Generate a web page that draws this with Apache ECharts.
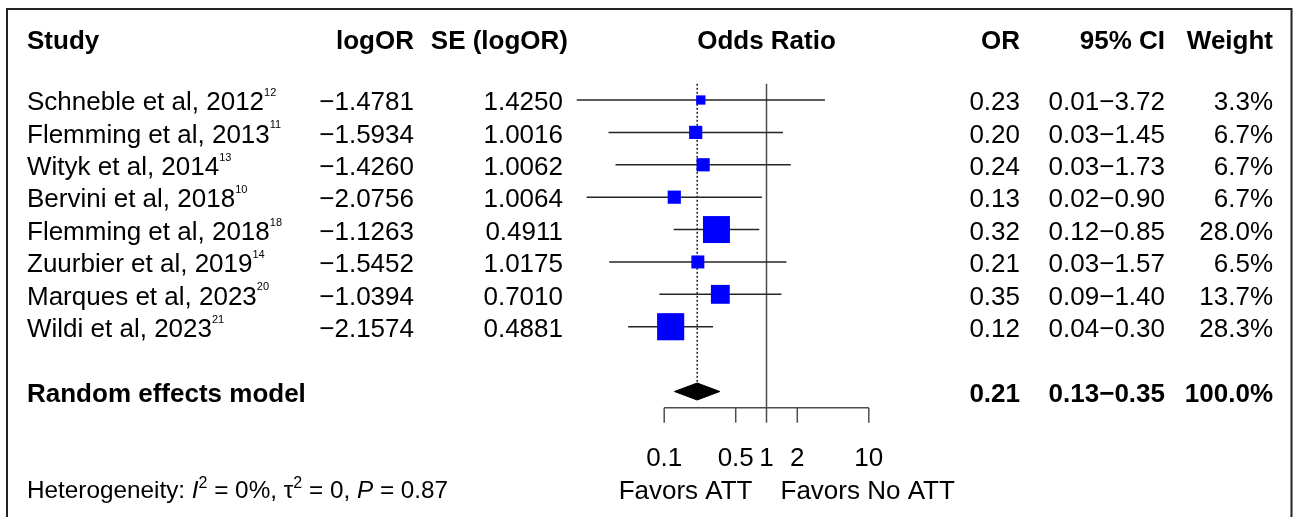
<!DOCTYPE html>
<html><head><meta charset="utf-8">
<script src="https://cdn.jsdelivr.net/npm/echarts@6.0.0/dist/echarts.min.js"></script>
<style>html,body{margin:0;padding:0;background:#fff}#c{width:1293px;height:517px}</style>
</head><body><div id="c"></div>
<script>
// ---- data ----
const studies = ['Schneble et al, 2012','Flemming et al, 2013','Wityk et al, 2014','Bervini et al, 2018','Flemming et al, 2018','Zuurbier et al, 2019','Marques et al, 2023','Wildi et al, 2023'];
const refs = ['12','11','13','10','18','14','20','21'];
const logOR = [-1.4781,-1.5934,-1.4260,-2.0756,-1.1263,-1.5452,-1.0394,-2.1574];
const seLogOR = [1.4250,1.0016,1.0062,1.0064,0.4911,1.0175,0.7010,0.4881];
const orText = ['0.23','0.20','0.24','0.13','0.32','0.21','0.35','0.12'];
const ciText = ['0.01\u22123.72','0.03\u22121.45','0.03\u22121.73','0.02\u22120.90','0.12\u22120.85','0.03\u22121.57','0.09\u22121.40','0.04\u22120.30'];
const weights = [3.3,6.7,6.7,6.7,28.0,6.5,13.7,28.3];
const pooledOR = [0.210];
const pooledCI = [0.126, 0.350];
const pooledText = ['0.21','0.13\u22120.35','100.0%'];
const tickValues = [0.1,0.5,1,2,10];
const tickLabels = ['0.1','0.5','1','2','10'];

const FONT = '"Liberation Sans", Arial, Helvetica, sans-serif';
const FS = 26;
const TDY = 3; // text vertical offset
const rows = studies.map((_, i) => i);
const POOL_ROW = 9, AXIS_ROW = 9.5, TICKLAB_ROW = 11, FOOT_ROW = 12, HEAD_ROW = -1.9;
const L10 = Math.LN10;
const fmt4 = v => (v < 0 ? '\u2212' : '') + Math.abs(v).toFixed(4);

const mctx = document.createElement('canvas').getContext('2d');
function measure(text, size, style, weight) {
  mctx.font = (style || 'normal') + ' ' + (weight || 'normal') + ' ' + size + 'px ' + FONT;
  return mctx.measureText(text).width;
}

// segments: [text, size, fontStyle, dy]
function segmentGroup(x, y, segs) {
  const children = [];
  let cx = x;
  segs.forEach(s => {
    const [t, size, fst, dy] = s;
    children.push({ type: 'text', x: cx, y: y + (dy || 0), style: { text: t, fill: '#000', fontSize: size, fontFamily: FONT, fontStyle: fst || 'normal', align: 'left', verticalAlign: 'middle' } });
    cx += measure(t, size, fst);
  });
  return { type: 'group', children: children };
}

function textSeries(xPix, align, texts, rowList, opt) {
  opt = opt || {};
  return {
    type: 'custom', coordinateSystem: 'cartesian2d', silent: true, clip: false,
    data: rowList.map(r => [0, r]),
    renderItem: (params, api) => {
      const y = api.coord([0, api.value(1)])[1] + TDY;
      const t = texts[params.dataIndex];
      if (Array.isArray(t)) return segmentGroup(xPix, y, t);
      return { type: 'text', x: xPix, y: y, style: {
        text: t, fill: '#000', fontSize: opt.fontSize || FS,
        fontFamily: FONT, fontWeight: opt.bold ? 'bold' : 'normal',
        align: align, verticalAlign: 'middle' } };
    }
  };
}

const studySegs = studies.map((s, i) => [[s, FS], [refs[i], 11, 'normal', -10]]);
const HS = 24.3;
const hetSegs = [['Heterogeneity: ', HS], ['I', HS, 'italic'], ['2', 16, 'normal', -8], [' = 0%, \u03c4', HS], ['2', 16, 'normal', -8], [' = 0, ', HS], ['P', HS, 'italic'], [' = 0.87', HS]];

const chart = echarts.init(document.getElementById('c'), null, { renderer: 'canvas' });

const series = [
  // reference line at OR = 1 (solid)
  {
    type: 'custom', coordinateSystem: 'cartesian2d', silent: true, clip: false,
    data: [[0, -0.5, AXIS_ROW]],
    renderItem: (p, api) => {
      const a = api.coord([api.value(0), api.value(1)]);
      const b = api.coord([api.value(0), api.value(2)]);
      return { type: 'line', shape: { x1: a[0], y1: a[1], x2: b[0], y2: b[1] }, style: { stroke: '#4d4d4d', lineWidth: 1.5 } };
    }
  },
  // pooled estimate line (dotted)
  {
    type: 'custom', coordinateSystem: 'cartesian2d', silent: true, clip: false,
    data: [[Math.log10(pooledOR[0]), -0.5, POOL_ROW]],
    renderItem: (p, api) => {
      const a = api.coord([api.value(0), api.value(1)]);
      const b = api.coord([api.value(0), api.value(2)]);
      return { type: 'line', shape: { x1: a[0], y1: a[1], x2: b[0], y2: b[1] - 8.5 }, style: { stroke: '#000', lineWidth: 1.3, lineDash: [2, 2] } };
    }
  },
  // squares
  {
    type: 'scatter', silent: true, symbol: 'rect',
    data: rows.map(i => [logOR[i] / L10, i, weights[i]]),
    symbolSize: v => 5.1 * Math.sqrt(v[2]),
    itemStyle: { color: '#0000ff', opacity: 1 },
    emphasis: { disabled: true }
  },
  // CI lines + estimate tick
  {
    type: 'custom', coordinateSystem: 'cartesian2d', silent: true, clip: false,
    data: rows.map(i => [i, (logOR[i] - 1.96 * seLogOR[i]) / L10, logOR[i] / L10, (logOR[i] + 1.96 * seLogOR[i]) / L10]),
    dimensions: ['row', 'lo', 'est', 'hi'],
    encode: { x: 2, y: 0 },
    renderItem: (p, api) => {
      const r = api.value(0);
      const lo = api.coord([api.value(1), r]);
      const es = api.coord([api.value(2), r]);
      const hi = api.coord([api.value(3), r]);
      const st = { stroke: '#262626', lineWidth: 1.5 };
      return {
        type: 'group', children: [
          { type: 'line', shape: { x1: lo[0], y1: lo[1], x2: hi[0], y2: hi[1] }, style: st },
          { type: 'line', shape: { x1: es[0], y1: es[1] - 4, x2: es[0], y2: es[1] + 4 }, style: st }
        ]
      };
    }
  },
  // pooled diamond
  {
    type: 'custom', coordinateSystem: 'cartesian2d', silent: true, clip: false,
    data: [[POOL_ROW, Math.log10(pooledCI[0]), Math.log10(pooledOR[0]), Math.log10(pooledCI[1])]],
    encode: { x: 2, y: 0 },
    renderItem: (p, api) => {
      const r = api.value(0);
      const lo = api.coord([api.value(1), r]);
      const es = api.coord([api.value(2), r]);
      const hi = api.coord([api.value(3), r]);
      return {
        type: 'polygon',
        shape: { points: [[lo[0], lo[1]], [es[0], es[1] - 8.5], [hi[0], hi[1]], [es[0], es[1] + 8.5]] },
        style: { fill: '#000', stroke: '#000', lineWidth: 1 }
      };
    }
  },
  // x axis line
  {
    type: 'custom', coordinateSystem: 'cartesian2d', silent: true, clip: false,
    data: [[Math.log10(tickValues[0]), Math.log10(tickValues[tickValues.length - 1]), AXIS_ROW]],
    renderItem: (p, api) => {
      const a = api.coord([api.value(0), api.value(2)]);
      const b = api.coord([api.value(1), api.value(2)]);
      return { type: 'line', shape: { x1: a[0], y1: a[1], x2: b[0], y2: b[1] }, style: { stroke: '#4d4d4d', lineWidth: 1.5 } };
    }
  },
  // ticks + labels
  {
    type: 'custom', coordinateSystem: 'cartesian2d', silent: true, clip: false,
    data: tickValues.map(t => [Math.log10(t), AXIS_ROW, TICKLAB_ROW]),
    renderItem: (p, api) => {
      const a = api.coord([api.value(0), api.value(1)]);
      const l = api.coord([api.value(0), api.value(2)]);
      return {
        type: 'group', children: [
          { type: 'line', shape: { x1: a[0], y1: a[1], x2: a[0], y2: a[1] + 15 }, style: { stroke: '#4d4d4d', lineWidth: 1.5 } },
          { type: 'text', x: l[0], y: l[1] + TDY, style: { text: tickLabels[p.dataIndex], fontSize: FS, fontFamily: FONT, fill: '#000', align: 'center', verticalAlign: 'middle' } }
        ]
      };
    }
  },
  // Favors labels (positioned relative to OR = 1)
  {
    type: 'custom', coordinateSystem: 'cartesian2d', silent: true, clip: false,
    data: [[0, FOOT_ROW]],
    renderItem: (p, api) => {
      const c = api.coord([api.value(0), api.value(1)]);
      return {
        type: 'group', children: [
          { type: 'text', x: c[0] - 14, y: c[1] + TDY, style: { text: 'Favors ATT', fontSize: FS, fontFamily: FONT, fill: '#000', align: 'right', verticalAlign: 'middle' } },
          { type: 'text', x: c[0] + 14, y: c[1] + TDY, style: { text: 'Favors No ATT', fontSize: FS, fontFamily: FONT, fill: '#000', align: 'left', verticalAlign: 'middle' } }
        ]
      };
    }
  },
  // headers
  textSeries(27, 'left', ['Study'], [HEAD_ROW], { bold: true }),
  textSeries(414, 'right', ['logOR'], [HEAD_ROW], { bold: true }),
  textSeries(568, 'right', ['SE (logOR)'], [HEAD_ROW], { bold: true }),
  textSeries(766.5, 'center', ['Odds Ratio'], [HEAD_ROW], { bold: true }),
  textSeries(1020, 'right', ['OR'], [HEAD_ROW], { bold: true }),
  textSeries(1165, 'right', ['95% CI'], [HEAD_ROW], { bold: true }),
  textSeries(1273, 'right', ['Weight'], [HEAD_ROW], { bold: true }),
  // study rows
  textSeries(27, 'left', studySegs, rows),
  textSeries(414, 'right', logOR.map(fmt4), rows),
  textSeries(563, 'right', seLogOR.map(v => v.toFixed(4)), rows),
  textSeries(1020, 'right', orText, rows),
  textSeries(1165, 'right', ciText, rows),
  textSeries(1273, 'right', weights.map(w => w.toFixed(1) + '%'), rows),
  // pooled row
  textSeries(27, 'left', ['Random effects model'], [POOL_ROW], { bold: true }),
  textSeries(1020, 'right', [pooledText[0]], [POOL_ROW], { bold: true }),
  textSeries(1165, 'right', [pooledText[1]], [POOL_ROW], { bold: true }),
  textSeries(1273, 'right', [pooledText[2]], [POOL_ROW], { bold: true }),
  // heterogeneity
  textSeries(27, 'left', [hetSegs], [FOOT_ROW])
];

// geometry: OR=1 at x=766.5, 102.3 px per decade; row 0 at y=100, 32.39 px per row
const DEC = 102.3, X1 = 766.5, R0 = 100, RS = 32.39;
const XMIN = -2, XMAX = 1, YMIN = -2, YMAX = 12;

chart.setOption({
  animation: false,
  backgroundColor: '#fff',
  grid: { left: X1 + XMIN * DEC, right: 1293 - (X1 + XMAX * DEC), top: R0 + YMIN * RS, bottom: 517 - (R0 + YMAX * RS), containLabel: false },
  xAxis: { type: 'value', min: XMIN, max: XMAX, show: false },
  yAxis: { type: 'value', min: YMIN, max: YMAX, inverse: true, show: false },
  graphic: [{
    type: 'rect', silent: true, z: 100,
    shape: { x: 7, y: 9, width: 1284.5, height: 540 },
    style: { fill: 'none', stroke: '#222', lineWidth: 2 }
  }],
  series: series
});
</script>
</body></html>
